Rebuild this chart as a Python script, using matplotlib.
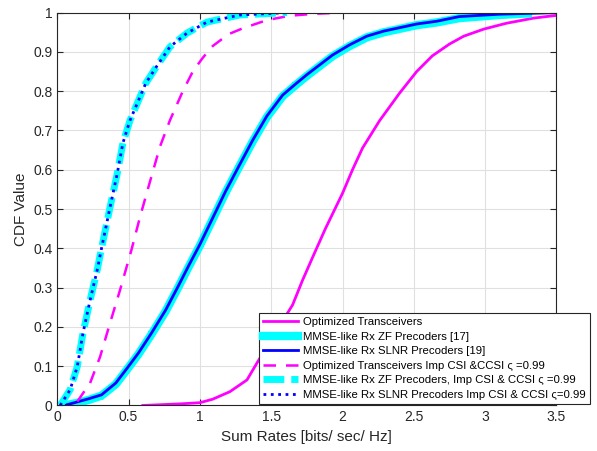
import numpy as np
import matplotlib
matplotlib.use('Agg')
import matplotlib.pyplot as plt

plt.rcParams['font.family'] = ['Liberation Sans', 'DejaVu Sans']

# Optimized Transceivers (perfect CSI)
opt_x = [0.60, 0.86, 1.00, 1.09, 1.21, 1.33, 1.40, 1.52, 1.65, 1.72, 1.80, 1.88, 2.00,
         2.07, 2.14, 2.26, 2.40, 2.52, 2.63, 2.75, 2.85, 2.99, 3.15, 3.34, 3.50]
opt_y = [0.000, 0.004, 0.007, 0.016, 0.035, 0.065, 0.108, 0.180, 0.256, 0.319, 0.385, 0.450,
         0.540, 0.600, 0.655, 0.725, 0.795, 0.850, 0.890, 0.920, 0.940, 0.958, 0.973,
         0.986, 0.993]

# MMSE-like Rx SLNR / ZF precoders (perfect CSI)
slnr_x = [0.05, 0.12, 0.22, 0.31, 0.41, 0.49, 0.57, 0.66, 0.76, 0.85, 0.92, 1.00, 1.08, 1.18,
          1.27, 1.37, 1.47, 1.58, 1.67, 1.75, 1.93, 2.05, 2.17, 2.29, 2.52, 2.66, 2.82, 3.10, 3.50]
slnr_y = [0.000, 0.007, 0.017, 0.027, 0.057, 0.095, 0.134, 0.184, 0.243, 0.305, 0.355, 0.410,
          0.470, 0.545, 0.607, 0.675, 0.737, 0.790, 0.818, 0.842, 0.892, 0.918, 0.940, 0.953,
          0.971, 0.978, 0.990, 0.996, 1.000]
zf_x = [0.05, 0.12, 0.22, 0.31, 0.41, 0.49, 0.57, 0.66, 0.76, 0.85, 0.92, 1.00, 1.08, 1.18,
        1.27, 1.37, 1.47, 1.58, 1.67, 1.75, 1.93, 2.05, 2.17, 2.29, 2.52, 2.66, 2.82, 3.10, 3.30]
zf_y = [0.000, 0.005, 0.014, 0.025, 0.054, 0.092, 0.131, 0.181, 0.240, 0.302, 0.352, 0.407,
        0.467, 0.542, 0.604, 0.672, 0.734, 0.787, 0.815, 0.839, 0.889, 0.915, 0.937, 0.950,
        0.968, 0.975, 0.986, 0.994, 0.998]

# Imperfect CSI & CCSI
optimp_x = [0.14, 0.23, 0.30, 0.37, 0.44, 0.52, 0.58, 0.65, 0.72, 0.79, 0.88, 0.95, 1.02,
            1.09, 1.20, 1.30, 1.47, 1.63, 1.80, 2.00]
optimp_y = [0.010, 0.057, 0.124, 0.210, 0.294, 0.396, 0.480, 0.570, 0.659, 0.726, 0.800,
            0.850, 0.885, 0.915, 0.945, 0.960, 0.981, 0.992, 0.997, 1.000]
slnrimp_x = [0.02, 0.09, 0.14, 0.18, 0.23, 0.28, 0.31, 0.37, 0.42, 0.46, 0.51, 0.57, 0.62,
             0.70, 0.79, 0.91, 1.05, 1.28, 1.61]
slnrimp_y = [0.000, 0.040, 0.099, 0.184, 0.268, 0.345, 0.400, 0.505, 0.590, 0.668, 0.726,
             0.777, 0.820, 0.865, 0.913, 0.948, 0.976, 0.994, 1.000]

fig = plt.figure(figsize=(5.97, 4.51), dpi=100)
ax = fig.add_axes([0.096, 0.101, 0.836, 0.871])

ax.plot(opt_x, opt_y, '-', color='#ff00ff', lw=2, label='Optimized Transceivers')
ax.plot(zf_x, zf_y, '-', color='#00ffff', lw=6, marker='v', markersize=4,
        label='MMSE-like Rx ZF Precoders [17]')
ax.plot(slnr_x, slnr_y, '-', color='#0000ff', lw=2, label='MMSE-like Rx SLNR Precoders [19]')
ax.plot(optimp_x, optimp_y, '--', color='#ff00ff', lw=1.8, dashes=(5, 4),
        label='Optimized Transceivers Imp CSI &CCSI \u03c2 =0.99')
ax.plot(slnrimp_x, slnrimp_y, '--', color='#00ffff', lw=5, dashes=(3, 1),
        label='MMSE-like Rx ZF Precoders, Imp CSI & CCSI \u03c2 =0.99')
ax.plot(slnrimp_x, slnrimp_y, ':', color='#0000ff', lw=2,
        label='MMSE-like Rx SLNR Precoders Imp CSI & CCSI \u03c2=0.99')

ax.set_xlim(0, 3.5)
ax.set_ylim(0, 1)
ax.set_xticks(np.arange(0, 3.51, 0.5))
ax.set_xticklabels(['0', '0.5', '1', '1.5', '2', '2.5', '3', '3.5'])
ax.set_yticks(np.arange(0, 1.01, 0.1))
ax.set_yticklabels(['0', '0.1', '0.2', '0.3', '0.4', '0.5', '0.6', '0.7', '0.8', '0.9', '1'])
ax.tick_params(direction='in', labelsize=10, colors='#262626', length=4, top=True, right=True)
ax.grid(True, color='#e0e0e0', lw=0.8)
ax.set_axisbelow(True)
for s in ax.spines.values():
    s.set_color('#262626')
    s.set_linewidth(0.8)

ax.set_xlabel('Sum Rates [bits/ sec/ Hz]', fontsize=11, color='#262626')
ax.set_ylabel('CDF Value', fontsize=11, color='#262626')

leg = ax.legend(loc='lower right', bbox_to_anchor=(590 / 597, 1 - 404 / 451),
                bbox_transform=fig.transFigure, fontsize=8.2, handlelength=3.0, borderaxespad=0,
                labelspacing=0.4, fancybox=False, framealpha=1, edgecolor='#262626',
                borderpad=0.35, handletextpad=0.5)
leg.get_frame().set_linewidth(0.8)

fig.savefig('out.png', dpi=100)
